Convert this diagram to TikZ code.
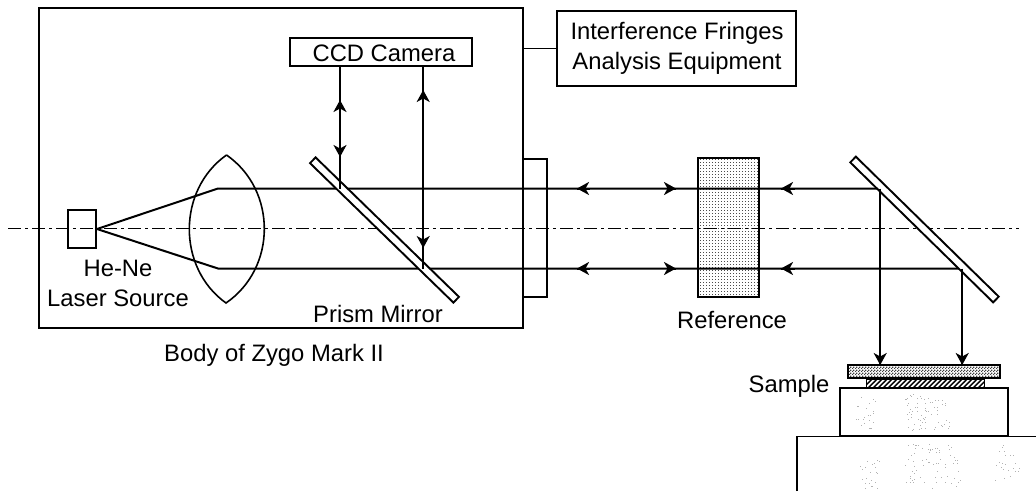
\documentclass[tikz,border=0pt]{standalone}
\usepackage{fontspec}
\setmainfont{Liberation Sans}
\usetikzlibrary{arrows.meta,patterns,decorations.markings}
\pgfdeclarepatternformonly{refdots}{\pgfpointorigin}{\pgfqpoint{3.4pt}{3.4pt}}{\pgfqpoint{3.4pt}{3.4pt}}{\pgfpathrectangle{\pgfpointorigin}{\pgfqpoint{1pt}{1pt}}\pgfusepath{fill}}
\pgfdeclarepatternformonly{platedots}{\pgfpointorigin}{\pgfqpoint{3pt}{3pt}}{\pgfqpoint{3pt}{3pt}}{\pgfpathrectangle{\pgfpointorigin}{\pgfqpoint{1.5pt}{1.5pt}}\pgfpathrectangle{\pgfqpoint{1.5pt}{1.5pt}}{\pgfqpoint{1.5pt}{1.5pt}}\pgfusepath{fill}}
\pgfdeclarepatternformonly{filmhatch}{\pgfpoint{-1pt}{-1pt}}{\pgfqpoint{5pt}{5pt}}{\pgfqpoint{5pt}{5pt}}{\pgfsetlinewidth{1.4pt}\pgfpathmoveto{\pgfpoint{-1pt}{-1pt}}\pgfpathlineto{\pgfpoint{5pt}{5pt}}\pgfusepath{stroke}}
\tikzset{
  x=1pt,y=-1pt,
  box/.style={draw=black,line width=1.7pt,inner sep=0pt,outer sep=0pt,minimum width=#1},
  box/.default=10pt,
  mirror/.style={draw=black,fill=white,line width=1.9pt,inner sep=0pt,outer sep=0pt,minimum width=200pt,minimum height=8pt},
  label/.style={font=\fontsize{23.8}{29.5}\selectfont,align=center,inner sep=0pt,text=black},
  beam/.style={line width=2pt,black},
  axis/.style={line width=1.1pt,black,dash pattern=on 13pt off 4pt on 3pt off 4pt},
  ah/.tip={Stealth[length=12pt,width=13pt,inset=3.5pt]},
  tipat/.style={postaction={decorate,decoration={markings,mark=at position #1pt with {\arrow{ah}}}}},
  tipback/.style={postaction={decorate,decoration={markings,mark=at position #1pt with {\arrowreversed{ah}}}}},
  speck/.style={fill=black!30},
}
\begin{document}
\begin{tikzpicture}
\useasboundingbox (0,0) rectangle (1036,491);
% outer housings
\node[box=484pt,minimum height=320pt] (body) at (281,168) {};
\node[box=24pt,minimum height=138pt] (window) at (535,228) {};
\node[box=61pt,minimum height=139pt,pattern=refdots,pattern color=black!70] (ref) at (728.5,227.5) {};
\node[box=182pt,minimum height=28pt] (ccd) at (381,52) {};
\node[box=239pt,minimum height=75pt,line width=1.3pt] (ife) at (676.5,48.5) {};
\node[box=28pt,minimum height=38pt] (laser) at (82,229) {};
% named points
\coordinate (axisL) at (8,228.5);
\coordinate (axisR) at (1019,228.5);
\coordinate (src) at (97,229);
\coordinate (bend1) at (218,188.5);
\coordinate (bend2) at (218,268.5);
\coordinate (m1a) at (880.2,188.5);
\coordinate (m1b) at (962.2,268.5);
\coordinate (h1a) at (340,188.5);
\coordinate (h1b) at (423.2,268.5);
\coordinate (ccdA) at (340,66);
\coordinate (ccdB) at (423.2,66);
\coordinate (bodyR) at (523,48.5);
\coordinate (lensT) at (226.5,155);
\coordinate (lensB) at (226,303);
\coordinate (plateA) at (880.2,365);
\coordinate (plateB) at (962.2,365);
% axis and beams
\draw[axis] (axisL) -- (axisR);
\draw[beam] (src) -- (bend1) -- (m1a);
\draw[beam] (src) -- (bend2) -- (m1b);
\foreach \y in {188.5,268.5}{
  \draw[beam,tipback=0] (577,\y) -- (590,\y);
  \draw[beam,tipat=9] (667,\y) -- (676,\y);
  \draw[beam,tipback=0] (781,\y) -- (795,\y);
}
% lens
\draw[line width=1.6pt] (lensT) .. controls (177,190) and (177,268) .. (lensB) .. controls (277,268) and (277,190) .. (lensT);
% mirrors
\node[mirror,rotate=-44.2] (prism) at (384.5,230) {};
\node[mirror,rotate=-44.4] (mirror2) at (924.5,229.5) {};
% verticals
\draw[beam,tipback=34,tipat=91] (ccdA) -- (h1a);
\draw[beam,tipback=24,tipat=182] (ccdB) -- (h1b);
\draw[beam,tipat=176.5] (m1a) -- (plateA);
\draw[beam,tipat=96.5] (m1b) -- (plateB);
\draw[line width=1.3pt] (bodyR) -- (ife.west);
% sample stack
\node[box=152pt,minimum height=13pt,pattern=platedots,pattern color=black!75] (plate) at (924,371.5) {};
\node[box=118pt,minimum height=9pt,line width=1pt,pattern=filmhatch,pattern color=black] (film) at (925,383.5) {};
\node[box=168pt,minimum height=48pt] (stage) at (924,412) {};
\draw[line width=1.7pt] (797,491) -- (797,436.5) -- (1036,436.5);
% scan speckle
\pgfmathsetseed{7}
\foreach \i in {1,...,70}{\fill[speck] ({905+45*rnd},{394+36*rnd}) rectangle ++(1,1);}
\foreach \i in {1,...,22}{\fill[speck] ({855+20*rnd},{396+34*rnd}) rectangle ++(1,1);}
\foreach \i in {1,...,70}{\fill[speck] ({905+55*rnd},{442+46*rnd}) rectangle ++(1,1);}
\foreach \i in {1,...,22}{\fill[speck] ({860+20*rnd},{460+28*rnd}) rectangle ++(1,1);}
\foreach \i in {1,...,22}{\fill[speck] ({995+25*rnd},{445+43*rnd}) rectangle ++(1,1);}
% labels
\node[label] (tccd) at (384,53) {CCD Camera};
\node[label] (tife) at (677,48.5) {Interference Fringes\\Analysis Equipment};
\node[label] (thene) at (118,283.5) {He-Ne\\Laser Source};
\node[label] (tprism) at (378,313.5) {Prism Mirror};
\node[label] (tbody) at (274,355) {Body of Zygo Mark II};
\node[label] (tref) at (732,320) {Reference};
\node[label] (tsample) at (789,386) {Sample};
\end{tikzpicture}
\end{document}
